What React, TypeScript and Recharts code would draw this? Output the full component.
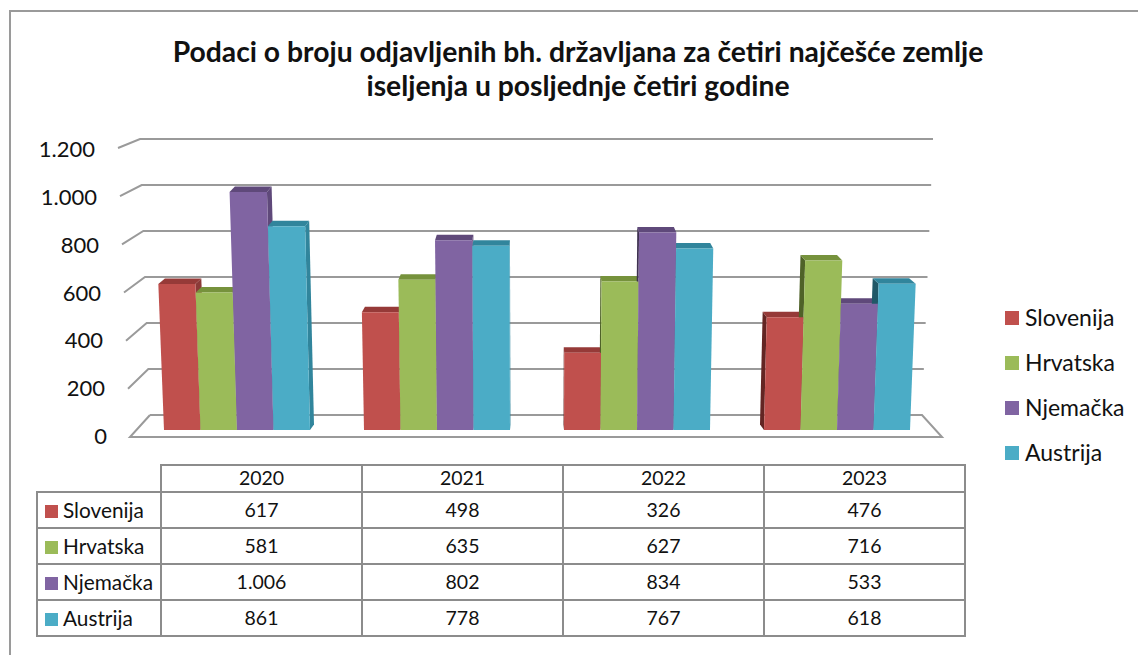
import React from "react";
import { BarChart, Bar, XAxis, YAxis, CartesianGrid, Legend } from "recharts";

const years = ["2020", "2021", "2022", "2023"];
const seriesNames = ["Slovenija", "Hrvatska", "Njemačka", "Austrija"];
const slovenija = [617, 498, 326, 476];
const hrvatska = [581, 635, 627, 716];
const njemacka = [1006, 802, 834, 533];
const austrija = [861, 778, 767, 618];
const seriesValues = [slovenija, hrvatska, njemacka, austrija];
const faceColors = ["#C0504D", "#9BBB59", "#8064A2", "#4BACC6"];
const topColors = ["#963A38", "#76923C", "#5F497A", "#31859C"];
const leftSideColors = ["#632523", "#4F6228", "#3F3151", "#205867"];
const rightSideColors = ["#8C3A38", "#76923C", "#5F497A", "#31859C"];
const valueTicks = [0, 200, 400, 600, 800, 1000, 1200];
const title = [
  "Podaci o broju odjavljenih bh. državljana za četiri najčešće zemlje",
  "iseljenja u posljednje četiri godine",
];

const FONT = "Lato, sans-serif";
const GRID = "#9A9A9A";
const TEXT = "#111111";
const CENTER_X = 537;
const TILT = 1.04e-4;
const DEPTH_X = 0.0176;
const DEPTH_Y = 5.5;
const BASE_Y = 430;
const PX_PER_UNIT = 284 / 1200;
const MAX = 1200;
const BAR_WIDTH = 36.5;

const rows = years.map((year, i) => {
  const row: Record<string, string | number> = { year };
  seriesNames.forEach((n, s) => (row[n] = seriesValues[s][i]));
  return row;
});

const fmt = (v: number) => (v >= 1000 ? `${Math.floor(v / 1000)}.${String(v % 1000).padStart(3, "0")}` : String(v));
const pts = (p: number[][]) => p.map((c) => c.join(",")).join(" ");
const tiltAt = (x: number, h: number) => (x - CENTER_X) * TILT * h;
const dxAt = (x: number) => (CENTER_X - x) * DEPTH_X;

const frontShape = (s: number) => (props: any) => {
  const { x, y, width, height } = props;
  const b = y + height;
  return (
    <polygon
      fill={faceColors[s]}
      points={pts([
        [x, b],
        [x + width, b],
        [x + width + tiltAt(x + width, height), y],
        [x + tiltAt(x, height), y],
      ])}
    />
  );
};

const depthShape = (s: number) => (props: any) => {
  const { x, y, width, height } = props;
  const b = y + height;
  const r = x + width;
  const tl = x + tiltAt(x, height);
  const tr = r + tiltAt(r, height);
  const useRight = r < CENTER_X;
  const ex = useRight ? r : x;
  const et = useRight ? tr : tl;
  const d = dxAt(ex);
  return (
    <g>
      <polygon
        fill={useRight ? rightSideColors[s] : leftSideColors[s]}
        points={pts([
          [ex, b],
          [et, y],
          [et + d, y - DEPTH_Y],
          [ex + d, b - DEPTH_Y],
        ])}
      />
      <polygon
        fill={topColors[s]}
        points={pts([
          [tl, y],
          [tr, y],
          [tr + dxAt(r), y - DEPTH_Y],
          [tl + dxAt(x), y - DEPTH_Y],
        ])}
      />
    </g>
  );
};

const gridLine = (props: any) => {
  const { y1, index } = props;
  const f = (BASE_Y - y1) / PX_PER_UNIT / MAX;
  const frontX = 130 - 12 * f;
  const frontY = 437 - 289 * f;
  const backX = 150 - 10 * f;
  const backY = 415 - 276 * f;
  const endX = 922 + 11 * f;
  const line = f < 0.001
    ? [[backX, backY], [endX, backY], [942, 437], [frontX, frontY], [backX, backY]]
    : [[frontX, frontY], [backX, backY], [endX, backY]];
  return <polyline key={`g${index}`} points={pts(line)} fill="none" stroke={GRID} strokeWidth={2} />;
};

const ValueTick = (props: any) => {
  const v = props.payload.value;
  const f = v / MAX;
  return (
    <text x={107 - 12 * f} y={444 - 287 * f} textAnchor="end" fontFamily={FONT} fontSize={22} fill={TEXT}>
      {fmt(v)}
    </text>
  );
};

const LegendContent = (props: any) => {
  const items = (props.payload || [])
    .filter((e: any) => e.type !== "none" && faceColors.includes(e.color))
    .sort((a: any, b: any) => seriesNames.indexOf(a.value) - seriesNames.indexOf(b.value));
  return (
    <div>
      {items.map((e: any) => (
        <div key={e.value} style={{ height: 45, display: "flex", alignItems: "center", fontFamily: FONT, fontSize: 23, color: TEXT }}>
          <span style={{ width: 14, height: 14, background: e.color, marginRight: 6, display: "inline-block" }} />
          <span style={{ position: "relative", top: -1 }}>{e.value}</span>
        </div>
      ))}
    </div>
  );
};

const cell: React.CSSProperties = {
  border: "2px solid #8C8C8C",
  padding: "0 0 2px 0",
  textAlign: "center",
  fontFamily: FONT,
  fontSize: 19.5,
  color: TEXT,
  boxSizing: "border-box",
};

const DataTable = () => (
  <table style={{ position: "absolute", left: 36, top: 464, borderCollapse: "collapse", tableLayout: "fixed", width: 929 }}>
    <colgroup>
      <col style={{ width: 124 }} />
      {years.map((y) => (
        <col key={y} style={{ width: 201 }} />
      ))}
    </colgroup>
    <tbody>
      <tr style={{ height: 27 }}>
        <td style={{ ...cell, borderTop: "none", borderLeft: "none" }} />
        {years.map((y) => (
          <td key={y} style={cell}>{y}</td>
        ))}
      </tr>
      {seriesNames.map((n, s) => (
        <tr key={n} style={{ height: 36 }}>
          <td style={{ ...cell, textAlign: "left", whiteSpace: "nowrap", fontSize: 20.8 }}>
            <span style={{ display: "inline-block", width: 13, height: 13, background: faceColors[s], marginLeft: 7, marginRight: 5 }} />
            {n}
          </td>
          {seriesValues[s].map((v, i) => (
            <td key={i} style={cell}>{fmt(v)}</td>
          ))}
        </tr>
      ))}
    </tbody>
  </table>
);

export default function App() {
  return (
    <div style={{ position: "absolute", left: 0, top: 0, width: 1138, height: 656, overflow: "hidden", background: "#fff" }}>
      <div style={{ position: "absolute", left: 9, top: 10, width: 1129, height: 645, borderTop: "2px solid #9A9A9A", borderLeft: "2px solid #9A9A9A", boxSizing: "border-box" }} />
      {title.map((t, i) => (
        <div key={t} style={{ position: "absolute", left: 0, width: 1156, top: 34 + i * 34, textAlign: "center", fontFamily: FONT, fontWeight: 700, fontSize: 28.3, lineHeight: "34px", color: TEXT, whiteSpace: "nowrap" }}>
          {t}
        </div>
      ))}
      <div style={{ position: "absolute", left: 0, top: 0 }}>
        <BarChart
          width={1138}
          height={656}
          data={rows}
          margin={{ left: 37, right: 201, top: 146, bottom: 226 }}
          barGap={0}
          barCategoryGap="13.5%"
          barSize={BAR_WIDTH}
        >
          <XAxis xAxisId="depth" dataKey="year" hide />
          <XAxis xAxisId="front" dataKey="year" hide />
          <YAxis width={100} domain={[0, MAX]} ticks={valueTicks} axisLine={false} tickLine={false} tick={ValueTick} interval={0} />
          <CartesianGrid xAxisId="front" vertical={false} horizontal={gridLine} />
          {seriesNames.map((n, s) => (
            <Bar key={`d${n}`} xAxisId="depth" dataKey={n} legendType="none" fill={topColors[s]} shape={depthShape(s)} isAnimationActive={false} />
          ))}
          {seriesNames.map((n, s) => (
            <Bar key={`f${n}`} xAxisId="front" dataKey={n} name={n} fill={faceColors[s]} shape={frontShape(s)} isAnimationActive={false} />
          ))}
          <Legend layout="vertical" align="center" verticalAlign="middle" content={LegendContent} wrapperStyle={{ left: 1005, top: 295, width: 130 }} />
        </BarChart>
      </div>
      <DataTable />
    </div>
  );
}
